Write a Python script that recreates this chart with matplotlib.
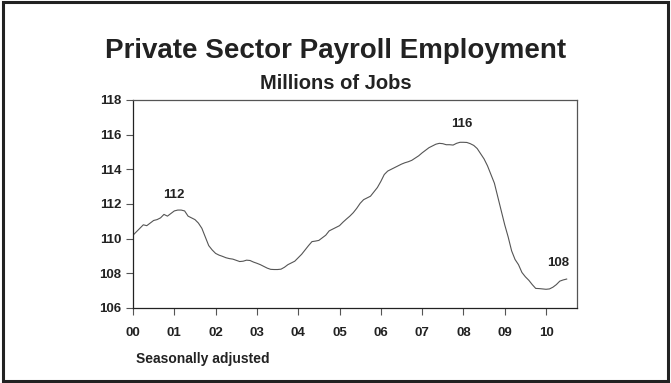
import numpy as np
import matplotlib
matplotlib.use("Agg")
import matplotlib.pyplot as plt
from matplotlib.patches import Rectangle

plt.rcParams['font.family'] = ['Liberation Sans', 'DejaVu Sans']

# monthly private payrolls, millions, Jan 2000 - Jul 2010
jobs_2000 = [110.2, 110.4, 110.6, 110.8, 110.75, 110.9, 111.05, 111.1, 111.2, 111.4, 111.3, 111.45]
jobs_2001 = [111.6, 111.65, 111.65, 111.6, 111.3, 111.2, 111.1, 110.9, 110.6, 110.1, 109.6, 109.35]
jobs_2002 = [109.15, 109.05, 108.98, 108.9, 108.85, 108.82, 108.75, 108.68, 108.7, 108.76, 108.74, 108.65]
jobs_2003 = [108.58, 108.5, 108.4, 108.3, 108.23, 108.22, 108.22, 108.24, 108.35, 108.5, 108.6, 108.7]
jobs_2004 = [108.9, 109.1, 109.35, 109.6, 109.83, 109.86, 109.9, 110.05, 110.2, 110.45, 110.55, 110.65]
jobs_2005 = [110.75, 110.95, 111.13, 111.3, 111.5, 111.75, 112.04, 112.25, 112.35, 112.45, 112.7, 112.95]
jobs_2006 = [113.3, 113.7, 113.9, 114.0, 114.1, 114.2, 114.3, 114.38, 114.44, 114.52, 114.65, 114.78]
jobs_2007 = [114.95, 115.1, 115.25, 115.35, 115.45, 115.5, 115.48, 115.42, 115.42, 115.4, 115.5, 115.56]
jobs_2008 = [115.56, 115.55, 115.48, 115.38, 115.2, 114.9, 114.6, 114.2, 113.7, 113.2, 112.4, 111.6]
jobs_2009 = [110.8, 110.1, 109.3, 108.8, 108.5, 108.05, 107.8, 107.6, 107.35, 107.13, 107.12, 107.1]
jobs_2010 = [107.08, 107.1, 107.2, 107.35, 107.55, 107.62, 107.67]

jobs = (jobs_2000 + jobs_2001 + jobs_2002 + jobs_2003 + jobs_2004 + jobs_2005
        + jobs_2006 + jobs_2007 + jobs_2008 + jobs_2009 + jobs_2010)
months = np.arange(len(jobs)) / 12.0

year_labels = ['00', '01', '02', '03', '04', '05', '06', '07', '08', '09', '10']
y_ticks = [106, 108, 110, 112, 114, 116, 118]

# peak / trough labels: (year position, value, text)
notes = [(1.0, 112.5, '112'), (7.95, 116.6, '116'), (10.3, 108.6, '108')]

fig = plt.figure(figsize=(6.71, 3.83), dpi=100)
ax = fig.add_axes([133 / 671, 1 - 308 / 383, (577 - 133) / 671, (308 - 100) / 383])

ax.plot(months, jobs, color='#555555', linewidth=0.8)

ax.set_xlim(0, 10.75)
ax.set_ylim(106, 118)
ax.set_xticks(range(len(year_labels)))
ax.set_xticklabels(year_labels)
ax.set_yticks(y_ticks)
ax.tick_params(axis='both', direction='out', length=5, width=0.8, color='#555555',
               labelsize=9.5)
ax.tick_params(axis='x', pad=9)
for lab in ax.get_xticklabels() + ax.get_yticklabels():
    lab.set_fontweight('bold')
    lab.set_color('#222222')
for s in ax.spines.values():
    s.set_color('#555555')
    s.set_linewidth(0.9)
ax.spines['left'].set_color('#222222')
ax.spines['bottom'].set_color('#222222')

for x, y, t in notes:
    ax.text(x, y, t, ha='center', va='center', fontsize=9.5, fontweight='bold', color='#222222')

fig.text(0.5, 1 - 58 / 383, 'Private Sector Payroll Employment', ha='center', va='baseline',
         fontsize=20, fontweight='bold', color='#222222')
fig.text(0.5, 1 - 89 / 383, 'Millions of Jobs', ha='center', va='baseline',
         fontsize=14.5, fontweight='bold', color='#222222')
fig.text(136 / 671, 1 - 363 / 383, 'Seasonally adjusted', ha='left', va='baseline',
         fontsize=10, fontweight='bold', color='#222222')

fig.patches.append(Rectangle((0.004, 0.006), 0.992, 0.988, transform=fig.transFigure,
                             fill=False, edgecolor='#222222', linewidth=2.2))

fig.savefig('out.png', dpi=100)
